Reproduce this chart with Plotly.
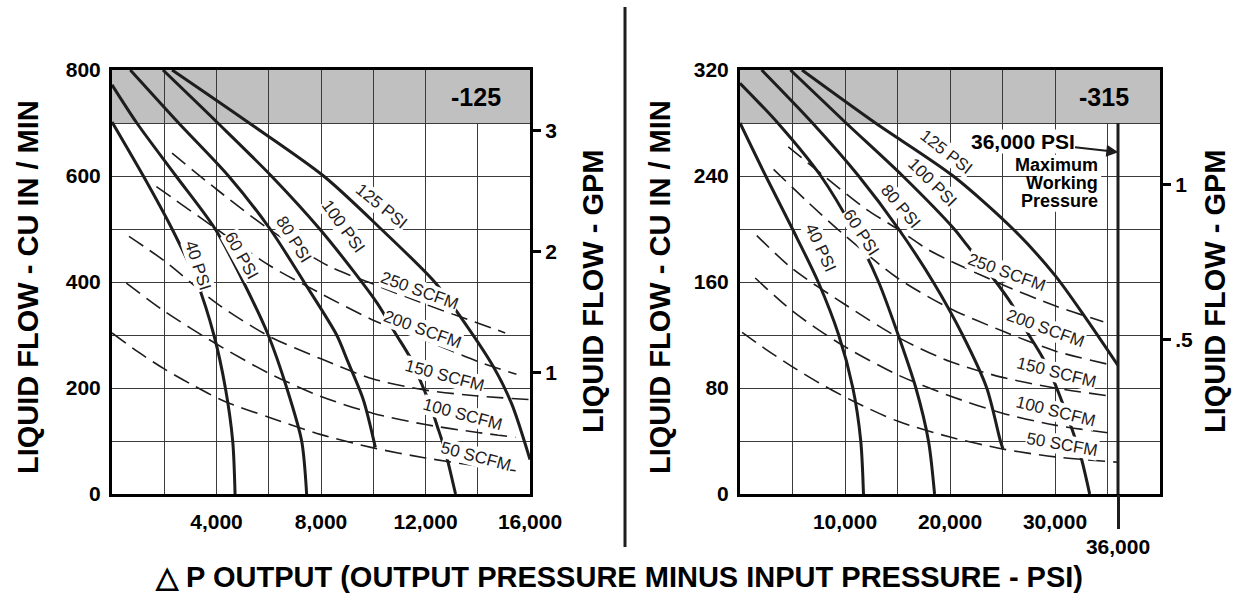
import plotly.graph_objects as go

# ---------------- Left panel (-125): x = PSI, y = cu in / min ----------------
L_psi40_x = [0, 1200, 2300, 3250, 3900, 4340, 4620, 4710]
L_psi40_y = [702, 600, 500, 400, 300, 200, 100, 0]
L_psi60_x = [0, 950, 2450, 3950, 5030, 5980, 6690, 7260, 7450]
L_psi60_y = [772, 700, 600, 500, 400, 300, 200, 100, 0]
L_psi80_x = [700, 2550, 4460, 6050, 7350, 8600, 9000, 9620, 10080]
L_psi80_y = [800, 700, 600, 500, 400, 300, 253, 178, 88]
L_psi100_x = [1950, 4050, 6100, 7950, 9250, 10150, 10850, 11430, 11850, 12150, 12450, 12750, 13150]
L_psi100_y = [800, 700, 600, 500, 420, 360, 303, 256, 208, 172, 128, 82, 0]
L_psi125_x = [2300, 5250, 8100, 10300, 12350, 13400, 14600, 15300, 16000]
L_psi125_y = [800, 700, 600, 500, 400, 330, 240, 170, 65]

L_scfm250_x = [2300, 4000, 6000, 8300, 10000, 12000, 13300, 15050]
L_scfm250_y = [643, 575, 500, 430, 396, 358, 335, 304]
L_scfm200_x = [1700, 4000, 6000, 8000, 10000, 12000, 14000, 15480]
L_scfm200_y = [580, 500, 432, 378, 328, 290, 250, 226]
L_scfm150_x = [650, 2000, 4000, 6000, 8000, 10000, 12000, 14000, 16000]
L_scfm150_y = [486, 440, 360, 298, 255, 217, 196, 185, 178]
L_scfm100_x = [550, 2000, 4000, 6000, 8000, 10000, 12000, 14000, 15450]
L_scfm100_y = [398, 345, 283, 228, 184, 152, 131, 116, 107]
L_scfm50_x = [0, 1000, 2000, 3000, 4300, 6000, 8000, 10000, 12000, 14000, 15450]
L_scfm50_y = [304, 268, 236, 208, 175, 145, 112, 87, 68, 53, 44]

# ---------------- Right panel (-315) ----------------
R_psi40_x = [0, 2450, 5000, 7450, 9400, 10750, 11500, 11760]
R_psi40_y = [280, 240, 200, 160, 120, 80, 40, 0]
R_psi60_x = [0, 3600, 7700, 10750, 13200, 15070, 16750, 17950, 18530]
R_psi60_y = [310, 280, 240, 200, 160, 120, 80, 40, 0]
R_psi80_x = [2060, 6900, 11300, 15100, 18400, 21200, 23500, 24800, 25050]
R_psi80_y = [320, 280, 240, 200, 160, 120, 80, 40, 34]
R_psi100_x = [4800, 10100, 15500, 20400, 21600, 24100, 25900, 27450, 28750, 29850, 30700, 32400, 33300]
R_psi100_y = [320, 280, 240, 200, 188, 163, 143, 121, 104, 86, 69, 30, 0]
R_psi125_x = [5900, 12900, 20300, 26000, 30000, 33000, 36000]
R_psi125_y = [320, 280, 240, 200, 165, 132, 97]

R_scfm250_x = [4600, 8000, 12000, 15000, 18000, 20000, 25000, 30000, 34600]
R_scfm250_y = [262, 240, 215, 200, 184, 176, 158, 142, 130]
R_scfm200_x = [3200, 6500, 10000, 15000, 20000, 25000, 30000, 35000]
R_scfm200_y = [245, 220, 195, 163, 140, 123, 108, 98]
R_scfm150_x = [1600, 5000, 10000, 15100, 20000, 25000, 30000, 35200]
R_scfm150_y = [195, 170, 143, 118, 100, 88, 80, 74]
R_scfm100_x = [1450, 5000, 9400, 15000, 20000, 25000, 30000, 35200]
R_scfm100_y = [163, 138, 114, 90, 74, 61, 52, 46]
R_scfm50_x = [200, 2500, 5000, 7500, 10800, 15000, 20000, 25000, 30000, 36000]
R_scfm50_y = [122, 109, 96, 84, 70, 55, 43, 34, 28, 24]

MAX_PSI = 36000
MAX_LINE_Y = [280, 0]

# tick definitions
L_xtick_vals = [2000, 4000, 6000, 8000, 10000, 12000, 14000, 16000]
L_xtick_text = ["", "4,000", "", "8,000", "", "12,000", "", "16,000"]
L_ytick_vals = [0, 100, 200, 300, 400, 500, 600, 700, 800]
L_ytick_text = ["0", "", "200", "", "400", "", "600", "", "800"]
L_gpm_vals = [1, 2, 3]
L_gpm_text = ["1", "2", "3"]
R_xtick_vals = [5000, 10000, 15000, 20000, 25000, 30000, 35000, 40000]
R_xtick_text = ["", "10,000", "", "20,000", "", "30,000", "", ""]
R_ytick_vals = [0, 40, 80, 120, 160, 200, 240, 280, 320]
R_ytick_text = ["0", "", "80", "", "160", "", "240", "", "320"]
R_gpm_vals = [0.5, 1]
R_gpm_text = [".5", "1"]

# curve labels: (text, x, y, angle)
L_labels = [
    ("125 PSI", 10324, 542, 39), ("100 PSI", 8850, 505, 54), ("80 PSI", 6950, 480, 58),
    ("60 PSI", 4950, 450, 61), ("40 PSI", 3300, 432, 72),
    ("250 SCFM", 11752, 384, 20), ("200 SCFM", 11880, 311, 20), ("150 SCFM", 12710, 223, 15),
    ("100 SCFM", 13411, 150, 15), ("50 SCFM", 13922, 71, 15),
]
R_labels = [
    ("125 PSI", 19700, 258, 38), ("100 PSI", 18300, 235, 45), ("80 PSI", 15300, 217, 50),
    ("60 PSI", 11500, 197, 57), ("40 PSI", 7650, 186, 65),
    ("250 SCFM", 25397, 167, 20), ("200 SCFM", 29111, 125, 20), ("150 SCFM", 30159, 92, 14),
    ("100 SCFM", 30063, 62, 14), ("50 SCFM", 30635, 37, 10),
]

INK = "#1f1c1d"
GRID = "#3a3a3a"
GRAY = "#c0c0c0"
FONT = "Liberation Sans, Arial, sans-serif"

fig = go.Figure()

def solid(x, y, xa, ya):
    fig.add_trace(go.Scatter(x=x, y=y, xaxis=xa, yaxis=ya, mode="lines",
                             line=dict(color=INK, width=3, shape="spline", smoothing=0.8),
                             hoverinfo="skip", showlegend=False))

def dashed(x, y, xa, ya):
    fig.add_trace(go.Scatter(x=x, y=y, xaxis=xa, yaxis=ya, mode="lines",
                             line=dict(color=INK, width=1.6, dash="17px,8px", shape="spline", smoothing=0.8),
                             hoverinfo="skip", showlegend=False))

for x, y in [(L_psi40_x, L_psi40_y), (L_psi60_x, L_psi60_y), (L_psi80_x, L_psi80_y),
             (L_psi100_x, L_psi100_y), (L_psi125_x, L_psi125_y)]:
    solid(x, y, "x", "y")
for x, y in [(L_scfm250_x, L_scfm250_y), (L_scfm200_x, L_scfm200_y), (L_scfm150_x, L_scfm150_y),
             (L_scfm100_x, L_scfm100_y), (L_scfm50_x, L_scfm50_y)]:
    dashed(x, y, "x", "y")
for x, y in [(R_psi40_x, R_psi40_y), (R_psi60_x, R_psi60_y), (R_psi80_x, R_psi80_y),
             (R_psi100_x, R_psi100_y), (R_psi125_x, R_psi125_y)]:
    solid(x, y, "x2", "y3")
for x, y in [(R_scfm250_x, R_scfm250_y), (R_scfm200_x, R_scfm200_y), (R_scfm150_x, R_scfm150_y),
             (R_scfm100_x, R_scfm100_y), (R_scfm50_x, R_scfm50_y)]:
    dashed(x, y, "x2", "y3")

# 36,000 PSI max working pressure line
fig.add_trace(go.Scatter(x=[MAX_PSI, MAX_PSI], y=MAX_LINE_Y, xaxis="x3", yaxis="y3", mode="lines",
                         line=dict(color=INK, width=3), hoverinfo="skip", showlegend=False))
# invisible anchors for the GPM axes
fig.add_trace(go.Scatter(x=[0], y=[0], xaxis="x", yaxis="y2", mode="markers",
                         marker=dict(opacity=0), hoverinfo="skip", showlegend=False))
fig.add_trace(go.Scatter(x=[0], y=[0], xaxis="x2", yaxis="y4", mode="markers",
                         marker=dict(opacity=0), hoverinfo="skip", showlegend=False))

W, H = 1238, 595
LX = [112 / W, 530 / W]
RX = [740 / W, 1160 / W]
YD = [(H - 494) / H, (H - 70) / H]

tickfont = dict(family=FONT, size=21, color="black", weight="bold")
frame = dict(showline=True, linecolor="black", linewidth=3, mirror=True, zeroline=False,
             showgrid=True, gridcolor=GRID, gridwidth=1.3, tickfont=tickfont, tickmode="array",
             automargin=False)
side = dict(showgrid=False, zeroline=False, showline=False, tickfont=tickfont, tickmode="array",
            automargin=False)

fig.update_layout(
    width=W, height=H, margin=dict(l=0, r=0, t=0, b=0, pad=0), autosize=False,
    paper_bgcolor="white", plot_bgcolor="white", showlegend=False,
    xaxis=dict(domain=LX, range=[0, 16000], anchor="y", tickvals=L_xtick_vals, ticktext=L_xtick_text,
               ticks="outside", ticklen=7, tickcolor="rgba(0,0,0,0)", **frame),
    yaxis=dict(domain=YD, range=[0, 800], anchor="x", tickvals=L_ytick_vals, ticktext=L_ytick_text,
               ticks="outside", ticklen=4, tickcolor="rgba(0,0,0,0)", **frame),
    yaxis2=dict(overlaying="y", side="right", anchor="x", range=[0, 3.5],
                tickvals=L_gpm_vals, ticktext=L_gpm_text, ticks="outside", ticklen=10, tickwidth=3,
                tickcolor="black", **side),
    xaxis2=dict(domain=RX, range=[0, 40000], anchor="y3", tickvals=R_xtick_vals, ticktext=R_xtick_text,
                ticks="outside", ticklen=7, tickcolor="rgba(0,0,0,0)", **frame),
    yaxis3=dict(domain=YD, range=[0, 320], anchor="x2", tickvals=R_ytick_vals, ticktext=R_ytick_text,
                ticks="outside", ticklen=4, tickcolor="rgba(0,0,0,0)", **frame),
    yaxis4=dict(overlaying="y3", side="right", anchor="x2", range=[0, 1.37],
                tickvals=R_gpm_vals, ticktext=R_gpm_text, ticks="outside", ticklen=10, tickwidth=3,
                tickcolor="black", **side),
    xaxis3=dict(overlaying="x2", anchor="y3", side="bottom", range=[0, 40000],
                tickvals=[MAX_PSI], ticktext=["36,000"], ticks="outside", ticklen=34, tickwidth=3,
                tickcolor=INK, **side),
)

shapes = [
    dict(type="rect", xref="x", yref="y", x0=0, x1=16000, y0=700, y1=800, fillcolor=GRAY,
         line=dict(width=0), layer="below"),
    dict(type="rect", xref="x", yref="y", x0=12150, x1=16000, y0=700, y1=800, fillcolor=GRAY,
         line=dict(width=0), layer="between"),
    dict(type="rect", xref="x2", yref="y3", x0=0, x1=40000, y0=280, y1=320, fillcolor=GRAY,
         line=dict(width=0), layer="below"),
    dict(type="rect", xref="x2", yref="y3", x0=30250, x1=40000, y0=280, y1=320, fillcolor=GRAY,
         line=dict(width=0), layer="between"),
    # white backing behind the "Maximum Working Pressure" note (hides grid lines)
    dict(type="rect", xref="x2", yref="y3", x0=28300, x1=34400, y0=213, y1=256, fillcolor="white",
         line=dict(width=0), layer="between"),
    dict(type="line", xref="paper", yref="paper", x0=625 / W, x1=625 / W, y0=(H - 547) / H, y1=(H - 7) / H,
         line=dict(color=INK, width=3)),
]
fig.update_layout(shapes=shapes)

ann = []
def curve_label(text, x, y, ang, xr, yr):
    ann.append(dict(text=text, x=x, y=y, xref=xr, yref=yr, textangle=ang, showarrow=False,
                    xanchor="center", yanchor="middle",
                    font=dict(family=FONT, size=17, color=INK), bgcolor="white", borderpad=0))

for t, x, y, a in L_labels:
    curve_label(t, x, y, a, "x", "y")
for t, x, y, a in R_labels:
    curve_label(t, x, y, a, "x2", "y3")

big = dict(family=FONT, size=29, color="black", weight="bold")
note = dict(family=FONT, size=18, color="black", weight="bold")
ctr = dict(xanchor="center", yanchor="middle", showarrow=False)
ann += [
    dict(text="-125", x=13922, y=750, xref="x", yref="y",
         font=dict(family=FONT, size=25, color="black", weight="bold"), **ctr),
    dict(text="-315", x=34667, y=300, xref="x2", yref="y3",
         font=dict(family=FONT, size=25, color="black", weight="bold"), **ctr),
    dict(text="36,000 PSI", x=36030, y=258, ax=26905, ay=266, xref="x2", yref="y3", axref="x2", ayref="y3",
         showarrow=True, arrowhead=2, arrowsize=1.2, arrowwidth=2, arrowcolor=INK, standoff=0,
         xanchor="center", yanchor="middle",
         bgcolor="white", borderpad=0, font=dict(family=FONT, size=21, color="black", weight="bold")),
    dict(text="Maximum", x=34300, y=248, xref="x2", yref="y3", xanchor="right", yanchor="middle",
         showarrow=False, font=note),
    dict(text="Working", x=34300, y=235, xref="x2", yref="y3", xanchor="right", yanchor="middle",
         showarrow=False, font=note),
    dict(text="Pressure", x=34300, y=221, xref="x2", yref="y3", xanchor="right", yanchor="middle",
         showarrow=False, font=note),
    dict(text="LIQUID FLOW - CU IN / MIN", x=28 / W, y=(H - 287) / H, xref="paper", yref="paper",
         textangle=-90, font=big, **ctr),
    dict(text="LIQUID FLOW - GPM", x=593 / W, y=(H - 291) / H, xref="paper", yref="paper",
         textangle=-90, font=big, **ctr),
    dict(text="LIQUID FLOW - CU IN / MIN", x=660 / W, y=(H - 287) / H, xref="paper", yref="paper",
         textangle=-90, font=big, **ctr),
    dict(text="LIQUID FLOW - GPM", x=1215 / W, y=(H - 291) / H, xref="paper", yref="paper",
         textangle=-90, font=big, **ctr),
    dict(text="△ P OUTPUT (OUTPUT PRESSURE MINUS INPUT PRESSURE - PSI)", x=619 / W, y=(H - 577) / H,
         xref="paper", yref="paper", font=big, **ctr),
]
fig.update_layout(annotations=ann)

fig.write_html("out.html")
